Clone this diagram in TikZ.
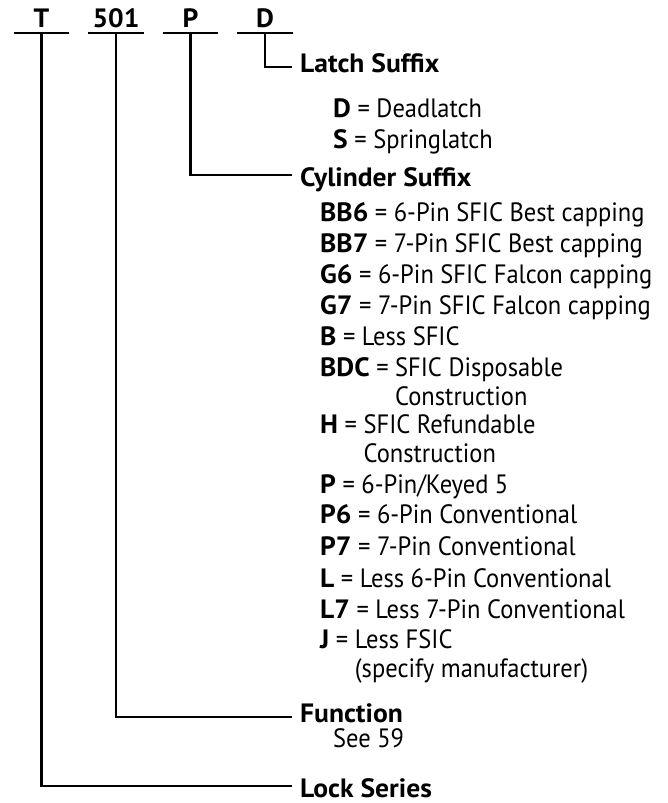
\documentclass[tikz,border=0pt]{standalone}
\usepackage{fontspec}
\setmainfont{PT Sans}[FakeStretch=0.925, BoldFeatures={FakeStretch=1.04}]
\def\sz{\fontsize{26.5}{29}\selectfont}
\begin{document}
\begin{tikzpicture}[x=1pt, y=-1pt, line cap=butt, line join=miter,
  every node/.style={font=\sz},
  code/.style={font=\sz\bfseries, minimum width=55pt, inner xsep=0pt,
    inner ysep=5pt, text depth=0pt, anchor=south},
  head/.style={font=\sz\bfseries, anchor=base west, inner xsep=8pt, inner ysep=0pt},
  entry/.style={anchor=base west, inner sep=0pt},
  link/.style={line width=2.6pt}]

\useasboundingbox (0,0) rectangle (667,803);

% --- Model number fields ---
\node[code] (t)   at (41.5,33) {T};
\node[code] (fn)  at (116,33)  {501};
\node[code] (cs)  at (190.5,33) {P};
\node[code] (ls)  at (265,33)  {D};
\foreach \f in {t,fn,cs,ls}{
  \draw[link] (\f.south west) -- (\f.south east);
}

% --- Headings ---
\node[head] (latch)  at (292,72)  {Latch Suffix};
\node[head] (cyl)    at (292,186) {Cylinder Suffix};
\node[head] (func)   at (292,722) {Function};
\node[head] (series) at (292,797) {Lock Series};

% --- Connectors ---
\draw[link] (ls.south) |- ([yshift=5pt]latch.base west);
\draw[link] (cs.south) |- ([yshift=11pt]cyl.base west);
\draw[link] (fn.south) |- ([yshift=5pt]func.base west);
\draw[link] (t.south)  |- ([yshift=11pt]series.base west);

% Latch options
\node[entry] (dl) at (333,117) {\textbf{D} = Deadlatch};
\node[entry] (sl) at (333,148) {\textbf{S} = Springlatch};

% Cylinder options
\foreach \y/\c/\d [count=\i] in {
  221/BB6/6-Pin SFIC Best capping,
  252/BB7/7-Pin SFIC Best capping,
  283/G6/6-Pin SFIC Falcon capping,
  314/G7/7-Pin SFIC Falcon capping,
  345/B/Less SFIC,
  493/P/6-Pin\slash Keyed 5,
  523/P6/6-Pin Conventional,
  555/P7/7-Pin Conventional,
  587/L/Less 6-Pin Conventional,
  618/L7/Less 7-Pin Conventional}{
  \node[entry] (opt\i) at (320,\y) {\textbf{\c} = \d};
}
\node[entry] (bdc) at (320,376)
  {\textbf{BDC} = \begin{tabular}[t]{@{}l@{}}SFIC Disposable\\Construction\end{tabular}};
\node[entry] (h) at (320,433)
  {\textbf{H} = \begin{tabular}[t]{@{}l@{}}SFIC Refundable\\Construction\end{tabular}};
\node[entry] (j) at (320,648)
  {\textbf{J} = \begin{tabular}[t]{@{}l@{}}Less FSIC\\(specify manufacturer)\end{tabular}};

% Function note
\node[entry] (see) at (333,747) {See 59};

\end{tikzpicture}
\end{document}
